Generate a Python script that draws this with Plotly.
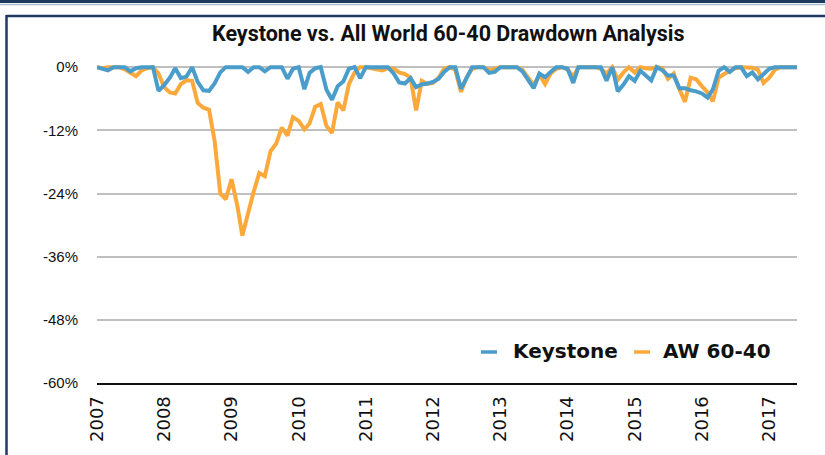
import pandas as pd
import plotly.graph_objects as go

# Monthly drawdowns (%), Jan 2007 - Jun 2017
months = pd.date_range("2007-01-01", periods=126, freq="MS")

keystone = [
    0, -0.3, -0.6, 0, 0, 0, -0.8, -0.2, 0, 0, 0, -4.5,
    -3.4, -2.0, -0.2, -2.1, -1.8, 0, -2.8, -4.4, -4.5, -3.1, -1.0, 0,
    0, 0, 0, -0.9, 0, 0, -0.8, 0, 0, 0, -2.2, -0.3,
    0, -4.2, -1.1, -0.2, 0, -4.3, -6.2, -3.6, -2.7, -0.3, 0, -2.1,
    0, 0, 0, 0, 0, -1.2, -2.9, -3.1, -2.1, -3.8, -3.3, -3.1,
    -2.8, -2.2, -0.9, 0, 0, -4.1, -2.2, 0, 0, 0, -1.1, -0.9,
    0, 0, 0, 0, -0.8, -2.5, -4.0, -1.2, -1.9, -0.9, 0, 0,
    -0.3, -3.0, 0, 0, 0, 0, 0, -2.6, 0, -4.6, -3.3, -1.7,
    -2.6, -0.7, -1.5, -2.5, 0, -0.6, -1.6, -1.6, -4.0, -4.0, -4.4, -4.6,
    -5.0, -5.8, -4.2, -0.7, 0, -0.9, 0, 0, -1.7, -1.0, -2.3, -1.4,
    -0.3, 0, 0, 0, 0, 0,
]

aw_60_40 = [
    0, -0.2, 0, 0, 0, -0.4, -1.0, -1.7, -0.6, -0.2, 0, -1.2,
    -3.8, -4.8, -5.0, -3.2, -2.5, -2.6, -6.8, -7.7, -8.1, -14.0, -24.0, -25.1,
    -21.3, -26.2, -32.0, -27.5, -23.7, -20.1, -20.7, -16.0, -14.5, -11.5, -13.0, -9.5,
    -10.2, -11.8, -10.7, -7.5, -7.0, -11.2, -12.5, -6.7, -8.2, -3.2, -1.0, 0,
    0, -0.2, -0.4, -0.6, -0.2, -0.3, -1.0, -1.3, -2.0, -8.2, -2.6, -3.2,
    -3.0, -2.0, -0.3, 0, -0.5, -4.7, -2.0, -0.3, 0, 0, -0.6, -0.3,
    0, 0, 0, 0, -0.5, -2.0, -3.4, -1.5, -3.2, -1.2, -0.3, 0,
    -0.4, -1.8, 0, 0, 0, 0, -0.3, -1.2, 0, -2.4, -1.0, 0,
    -1.0, 0, -0.2, -0.3, 0, -0.2, -2.2, -1.2, -4.2, -6.6, -2.0, -2.3,
    -3.6, -4.8, -6.5, -2.0, -1.3, -0.7, -0.2, 0, 0, -0.1, -0.5, -3.0,
    -2.0, -0.5, 0, 0, 0, 0,
]

series_names = ["Keystone", "AW 60-40"]
series_colors = ["#4A9DCB", "#FBA93B"]
year_ticks = pd.date_range("2007-01-01", "2017-01-01", freq="YS")
y_ticks = [0, -12, -24, -36, -48, -60]
y_tick_labels = ["0%", "-12%", "-24%", "-36%", "-48%", "-60%"]

W, H = 825, 455
M_L, M_R, M_T, M_B = 97, 28, 64, 72
Y_RANGE = [-60, 0.6]


def px_x(px):
    return (px - M_L) / (W - M_L - M_R)


def px_y(py):
    return (H - M_B - py) / (H - M_T - M_B)


fig = go.Figure()
fig.add_trace(go.Scatter(x=months, y=aw_60_40, mode="lines", name=series_names[1],
                         line=dict(color=series_colors[1], width=4), showlegend=False))
fig.add_trace(go.Scatter(x=months, y=keystone, mode="lines", name=series_names[0],
                         line=dict(color=series_colors[0], width=4), showlegend=False))

navy = "#1F3A5F"
shapes = [
    # page frame
    dict(type="rect", xref="paper", yref="paper", x0=px_x(0), x1=px_x(W), y0=px_y(0), y1=px_y(3),
         fillcolor=navy, line=dict(width=0), layer="below"),
    dict(type="line", xref="paper", yref="paper", x0=px_x(0), x1=px_x(W), y0=px_y(4.5), y1=px_y(4.5),
         line=dict(color="#A9BCD0", width=1.5)),
    dict(type="line", xref="paper", yref="paper", x0=px_x(6.5), x1=px_x(W), y0=px_y(16), y1=px_y(16),
         line=dict(color=navy, width=2.5)),
    dict(type="line", xref="paper", yref="paper", x0=px_x(6.5), x1=px_x(6.5), y0=px_y(15), y1=px_y(H),
         line=dict(color=navy, width=2.5)),
]

# legend
legend_items = [(series_names[0], series_colors[0], 481, 511), (series_names[1], series_colors[1], 634, 661)]
annotations = []
for name, color, lx, tx in legend_items:
    shapes.append(dict(type="line", xref="paper", yref="paper", x0=px_x(lx), x1=px_x(lx + 16),
                       y0=px_y(352), y1=px_y(352), line=dict(color=color, width=3.5)))
    annotations.append(dict(x=px_x(tx), y=px_y(351), xref="paper", yref="paper", text=name,
                            showarrow=False, xanchor="left", yanchor="middle",
                            font=dict(family="DejaVu Sans", size=20, color="#111111", weight="bold")))

annotations.append(dict(x=px_x(448), y=px_y(33), xref="paper", yref="paper",
                        text="Keystone vs. All World 60-40 Drawdown Analysis", showarrow=False,
                        xanchor="center", yanchor="middle",
                        font=dict(family="Roboto", size=21.5, color="#111111", weight="bold")))

fig.update_layout(
    width=W, height=H,
    margin=dict(l=M_L, r=M_R, t=M_T, b=M_B),
    paper_bgcolor="white", plot_bgcolor="white",
    shapes=shapes, annotations=annotations,
    showlegend=False,
)
fig.update_xaxes(
    range=[months[0], months[-1]],
    tickvals=year_ticks, tickformat="%Y", tickangle=-90,
    tickfont=dict(family="DejaVu Sans", size=18, color="#111111"),
    showgrid=False, zeroline=False,
    showline=True, linecolor="#111111", linewidth=2,
    ticks="", ticklabelstandoff=4,
)
fig.update_yaxes(
    range=Y_RANGE, tickmode="array", tickvals=y_ticks, ticktext=y_tick_labels,
    tickfont=dict(family="Liberation Sans", size=15, color="#111111"),
    showgrid=True, gridcolor="#BFBFBF", gridwidth=2,
    zeroline=False, showline=False, ticks="", ticklabelstandoff=18,
)

fig.write_html("out.html")
